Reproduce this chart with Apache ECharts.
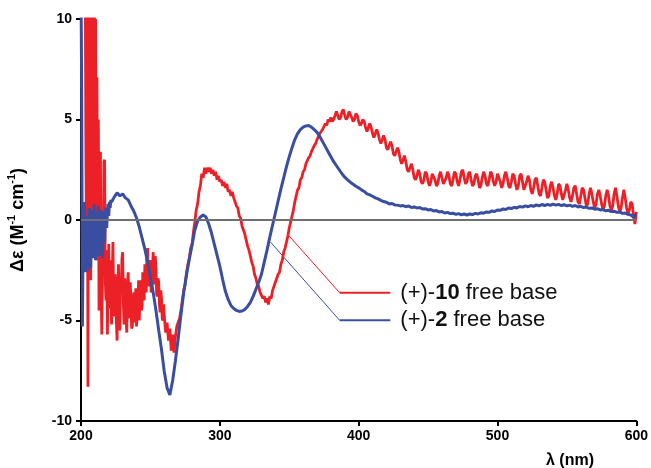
<!DOCTYPE html>
<html><head><meta charset="utf-8">
<script src="https://cdn.jsdelivr.net/npm/echarts@6/dist/echarts.min.js"></script>
<style>html,body{margin:0;padding:0;background:#fff}#c{width:651px;height:468px}</style>
</head><body><div id="c"></div>
<script>
// ---- data ----
const xTicks = [200, 300, 400, 500, 600];
const yTicks = [-10, -5, 0, 5, 10];

// (+)-10 free base, noisy part: 0.5 nm steps from 203 nm
const redAStart = 203, redAStep = 0.5;
const redAValues = [
 13, 4, -2, 12, -8.3, 14, 2, 11, -3, 13,
 5, 12, -1, 14, 3, 10, 0, 7.1, -2, 5,
 -4.5, -1, 3.4, -3.5, -5.7, -2.5, -2, 2.9, 3.0, -3,
 -4, -1.5, -5.7, -3.2, -1.2, -4.4, -3.5, -2.0, -5.2, -3.0,
 -1.1, -3.9, -4.8, -2.7, -3, -5.1, -6.0, -3.5, -2.2, -4.6,
 -5.5, -3.0, -3.4, -1.9, -1.6, -4.1, -5.2, -2.9, -3.8, -5.0,
 -5.6, -3.2, -2.6, -4.4, -4.9, -3.1, -4.2, -5.4, -5.3, -3.9,
 -3.6, -5.1, -4.7, -3.4, -5.3, -4.6, -4.1, -3.0, -5.0, -3.8,
 -3.0, -4.5, -4.3, -2.6, -3.2, -4.0, -2.2, -3.1, -3.6, -1.7,
 -1.4, -3.3, -3.0, -2.1, -2.0, -3.6, -3.5, -2.4, -1.6, -3.2,
 -2.9, -1.8, -2.4, -3.7, -3.8, -2.9, -3.1, -4.2, -4.6, -3.5,
 -3.9, -4.9, -5.0, -4.2
];
// (+)-10 free base, 1 nm steps from 260 nm
const redBStart = 260, redBStep = 1;
const redBValues = [
 -4.8, -5.6, -5.1,
 -6.0, -5.4, -6.5, -5.7, -6.6, -5.8, -5.3, -5.3, -4.9, -4.5,
 -4.0, -3.5, -3.2, -2.6, -2.2, -1.9, -1.4, -1.2, -0.6, -0.1,
 0.5, 0.8, 1.4, 1.7, 2.3, 2.1, 2.6, 2.3, 2.6, 2.4,
 2.6, 2.3, 2.5, 2.2, 2.4, 2.0, 2.2, 1.9, 2.0, 1.7,
 1.9, 1.6, 1.8, 1.4, 1.5, 1.2, 1.4, 1.1, 1.1, 0.7,
 0.6, 0.2, 0.1, -0.3, -0.5, -0.7, -1.0, -1.3, -1.5, -1.8,
 -2.1, -2.3, -2.7, -2.9, -3.2, -3.3, -3.6, -3.6, -3.9, -3.8,
 -4.1, -3.9, -4.2, -3.8, -3.9, -3.5, -3.5, -3.1, -3.1, -2.7,
 -2.6, -2.2, -2.0, -1.6, -1.4, -1.1, -0.8, -0.4, -0.1, 0.2,
 0.5, 0.9, 1.2, 1.5, 1.6, 2.0, 2.1, 2.4, 2.5, 2.8,
 2.8, 3.1, 3.2, 3.4, 3.4, 3.7, 3.8, 4.0, 4.0, 4.3,
 4.3, 4.5, 4.5, 4.8, 4.7, 5.0, 4.9, 5.1, 4.9, 5.0,
 5.2, 5.4, 5.2, 5.0, 5.1, 5.4, 5.5, 5.2, 5.0, 5.1,
 5.4, 5.4, 5.1, 4.9, 5.0, 5.3, 5.2, 4.9, 4.7, 4.8,
 5.0, 4.9, 4.6, 4.4, 4.6, 4.8, 4.6, 4.3, 4.1, 4.3,
 4.5, 4.3, 4.0, 3.8, 4.0, 4.2, 4.0, 3.6, 3.5, 3.7,
 3.9, 3.7, 3.3, 3.2, 3.4, 3.6, 3.4, 3.0, 2.8, 3.0,
 3.2, 2.9, 2.5, 2.4, 2.6, 2.8, 2.5, 2.1, 2.0, 2.2,
 2.5, 2.3, 1.9, 1.8, 2.0, 2.4, 2.3, 1.9, 1.7, 1.9,
 2.3, 2.3, 2.0, 1.7, 1.8, 2.2, 2.4, 2.1, 1.8, 1.8,
 2.1, 2.4, 2.2, 1.8, 1.7, 2.0, 2.4, 2.3, 1.9, 1.7,
 2.0, 2.4, 2.5, 2.1, 1.8, 1.9, 2.3, 2.4, 2.0, 1.7,
 1.8, 2.2, 2.3, 2.0, 1.6, 1.7, 2.1, 2.4, 2.2, 1.8,
 1.7, 2.0, 2.4, 2.3, 1.9, 1.7, 1.9, 2.3, 2.3, 1.9,
 1.6, 1.8, 2.2, 2.4, 2.1, 1.7, 1.6, 1.9, 2.3, 2.2,
 1.8, 1.5, 1.7, 2.2, 2.3, 1.9, 1.5, 1.5, 1.9, 2.2,
 2.0, 1.5, 1.3, 1.6, 2.0, 2.1, 1.7, 1.3, 1.2, 1.6,
 2.0, 1.9, 1.5, 1.1, 1.2, 1.7, 1.9, 1.6, 1.2, 1.0,
 1.3, 1.8, 1.7, 1.3, 1.0, 1.0, 1.5, 1.8, 1.5, 1.1,
 0.9, 1.2, 1.6, 1.7, 1.3, 0.9, 0.8, 1.2, 1.6, 1.5,
 1.1, 0.7, 0.8, 1.3, 1.6, 1.3, 0.9, 0.6, 0.8, 1.3,
 1.5, 1.2, 0.8, 0.5, 0.7, 1.2, 1.5, 1.2, 0.7, 0.5,
 0.7, 1.3, 1.6, 1.2, 0.7, 0.4, 0.6, 1.1, 1.5, 1.1,
 0.6, 0.3, 0.5, 0.9, 0.8, 0.2, -0.2, 0.4
];

// (+)-2 free base, noisy start 200-222 nm at 0.5 nm
const blueAStart = 200, blueAStep = 0.5;
const blueAValues = [
 12, 6, -5.3, -1.0, -2.4, 0.9, -1.5, -2.6, 0.2, -2.2,
 -0.3, -2.5, 0.6, -1.2, -2.4, 0.5, -1.6, 0.0, -1.9, 0.8,
 -0.6, -2.0, 0.4, -1.4, -0.2, 0.7, -1.8, -0.5, -1.2, 0.5,
 -0.9, -1.9, -0.2, 0.4, -1.1, 0.2, 0.6, -0.4, 0.3, 0.8,
 0.2, 0.9, 0.6, 1.0, 0.9
];
// (+)-2 free base, 224-600 nm at 2 nm
const blueBStart = 224, blueBStep = 2;
const blueBValues = [
 1.15, 1.35, 1.2, 1.3, 1.1, 1.0, 0.7, 0.45, 0.1, -0.35,
 -0.9, -1.45, -2.1, -2.85, -3.6, -4.5, -5.5, -6.45, -7.55, -8.35,
 -8.7, -8.0, -7.0, -5.9, -4.7, -3.6, -2.75, -1.95, -1.25, -0.5,
 -0.05, 0.15, 0.25, 0.15, -0.2, -0.65, -1.2, -1.75, -2.3, -2.95,
 -3.55, -3.95, -4.25, -4.4, -4.5, -4.55, -4.53, -4.45, -4.3, -4.1,
 -3.8, -3.45, -3.1, -2.7, -2.1, -1.5, -0.85, -0.25, 0.35, 0.95,
 1.55, 2.1, 2.65, 3.15, 3.6, 4.0, 4.3, 4.5, 4.62, 4.68,
 4.7, 4.62, 4.5, 4.36, 4.15, 3.9, 3.65, 3.4, 3.15, 2.9,
 2.7, 2.5, 2.3, 2.13, 2.0, 1.88, 1.78, 1.68, 1.6, 1.5,
 1.42, 1.3, 1.25, 1.18, 1.1, 1.05, 0.98, 0.92, 0.88, 0.8,
 0.82, 0.75, 0.74, 0.7, 0.72, 0.66, 0.7, 0.62, 0.65, 0.6,
 0.62, 0.55, 0.56, 0.5, 0.52, 0.45, 0.47, 0.4, 0.42, 0.35,
 0.38, 0.32, 0.34, 0.28, 0.32, 0.26, 0.3, 0.25, 0.3, 0.27,
 0.33, 0.3, 0.36, 0.34, 0.4, 0.38, 0.45, 0.42, 0.5, 0.48,
 0.55, 0.52, 0.6, 0.57, 0.63, 0.6, 0.67, 0.64, 0.7, 0.66,
 0.72, 0.68, 0.75, 0.7, 0.77, 0.72, 0.78, 0.73, 0.79, 0.74,
 0.78, 0.72, 0.76, 0.7, 0.74, 0.68, 0.72, 0.65, 0.68, 0.62,
 0.64, 0.58, 0.6, 0.54, 0.56, 0.5, 0.52, 0.46, 0.48, 0.42,
 0.44, 0.38, 0.4, 0.33, 0.35, 0.28, 0.25, 0.15, 0.3
];

// labels
const redLabel = ['(+)-', '10', ' free base'];
const blueLabel = ['(+)-', '2', ' free base'];
// leader-line anchor points (data coordinates: nm, Δε)
const redLeaderDiag = [[350, -0.8], [386.3, -3.62]];
const redLeaderHoriz = [[386.3, -3.62], [422.8, -3.62]];
const blueLeaderDiag = [[336.5, -1.1], [386.3, -4.99]];
const blueLeaderHoriz = [[386.3, -4.99], [422.8, -4.99]];

// ---- build ----
function toPairs(start, step, vals) { return vals.map((v, i) => [start + i * step, v]); }
const redData = toPairs(redAStart, redAStep, redAValues).concat(toPairs(redBStart, redBStep, redBValues));
const blueData = toPairs(blueAStart, blueAStep, blueAValues).concat(toPairs(blueBStart, blueBStep, blueBValues));

const RED = '#ec2027', BLUE = '#3a4ea1';
const FONT = '"Liberation Sans", Arial, sans-serif';

const chart = echarts.init(document.getElementById('c'), null, { renderer: 'canvas' });
function labelRich() {
  return {
    n: { fontSize: 22, fontFamily: FONT, color: '#111' },
    b: { fontSize: 22, fontFamily: FONT, color: '#111', fontWeight: 'bold' }
  };
}
chart.setOption({
  animation: false,
  backgroundColor: '#fff',
  grid: { left: 81, right: 14, top: 19, bottom: 47, containLabel: false },
  xAxis: {
    type: 'value', min: xTicks[0], max: xTicks[xTicks.length - 1], interval: 100,
    axisLine: { onZero: false, lineStyle: { color: '#000', width: 2 } },
    axisTick: { show: true, length: 5, lineStyle: { color: '#000', width: 2 } },
    axisLabel: { color: '#000', fontSize: 14, fontWeight: 'bold', fontFamily: FONT, margin: 8 },
    splitLine: { show: false }
  },
  yAxis: {
    type: 'value', min: yTicks[0], max: yTicks[yTicks.length - 1], interval: 5,
    axisLine: { show: true, onZero: false, lineStyle: { color: '#000', width: 2 } },
    axisTick: { show: true, length: 5, lineStyle: { color: '#000', width: 2 } },
    axisLabel: { color: '#000', fontSize: 14, fontWeight: 'bold', fontFamily: FONT, margin: 9 },
    splitLine: { show: false }
  },
  series: [
    {
      type: 'line', data: [], z: 1, silent: true,
      markLine: {
        silent: true, symbol: ['none', 'none'], label: { show: false },
        lineStyle: { color: '#6f6f6f', width: 2, type: 'solid' },
        data: [{ yAxis: 0 }]
      }
    },
    {
      name: redLabel.join(''), type: 'line', data: redData, showSymbol: false, symbol: 'none',
      z: 3, clip: true, lineStyle: { color: RED, width: 2.8 }, silent: true
    },
    {
      name: blueLabel.join(''), type: 'line', data: blueData, showSymbol: false, symbol: 'none',
      z: 4, clip: true, lineStyle: { color: BLUE, width: 3 }, silent: true
    },
    { type: 'line', data: redLeaderDiag, symbol: 'none', z: 2, silent: true, lineStyle: { color: RED, width: 1 } },
    { type: 'line', data: blueLeaderDiag, symbol: 'none', z: 2, silent: true, lineStyle: { color: BLUE, width: 1 } },
    {
      type: 'line', data: redLeaderHoriz, symbol: 'none', z: 2, silent: true, lineStyle: { color: RED, width: 2 },
      endLabel: { show: true, distance: 10, formatter: () => '{n|' + redLabel[0] + '}{b|' + redLabel[1] + '}{n|' + redLabel[2] + '}', rich: labelRich() }
    },
    {
      type: 'line', data: blueLeaderHoriz, symbol: 'none', z: 2, silent: true, lineStyle: { color: BLUE, width: 2 },
      endLabel: { show: true, distance: 10, formatter: () => '{n|' + blueLabel[0] + '}{b|' + blueLabel[1] + '}{n|' + blueLabel[2] + '}', rich: labelRich() }
    }
  ],
  graphic: [
    {
      type: 'text', x: 17, y: 220, rotation: Math.PI / 2, silent: true,
      style: {
        text: '{a|Δε (M}{s|-1}{a| cm}{s|-1}{a|)}',
        align: 'center', verticalAlign: 'middle',
        rich: {
          a: { fontSize: 18, fontWeight: 'bold', fontFamily: FONT, fill: '#000', lineHeight: 21, verticalAlign: 'bottom' },
          s: { fontSize: 11, fontWeight: 'bold', fontFamily: FONT, fill: '#000', lineHeight: 21, verticalAlign: 'top', padding: [0, 0, 9, 0] }
        }
      }
    },
    {
      type: 'text', x: 570, y: 461, silent: true,
      style: { text: 'λ (nm)', fontSize: 16, fontWeight: 'bold', fontFamily: FONT, fill: '#000', align: 'center', verticalAlign: 'middle' }
    }
  ]
});
</script>
</body></html>
